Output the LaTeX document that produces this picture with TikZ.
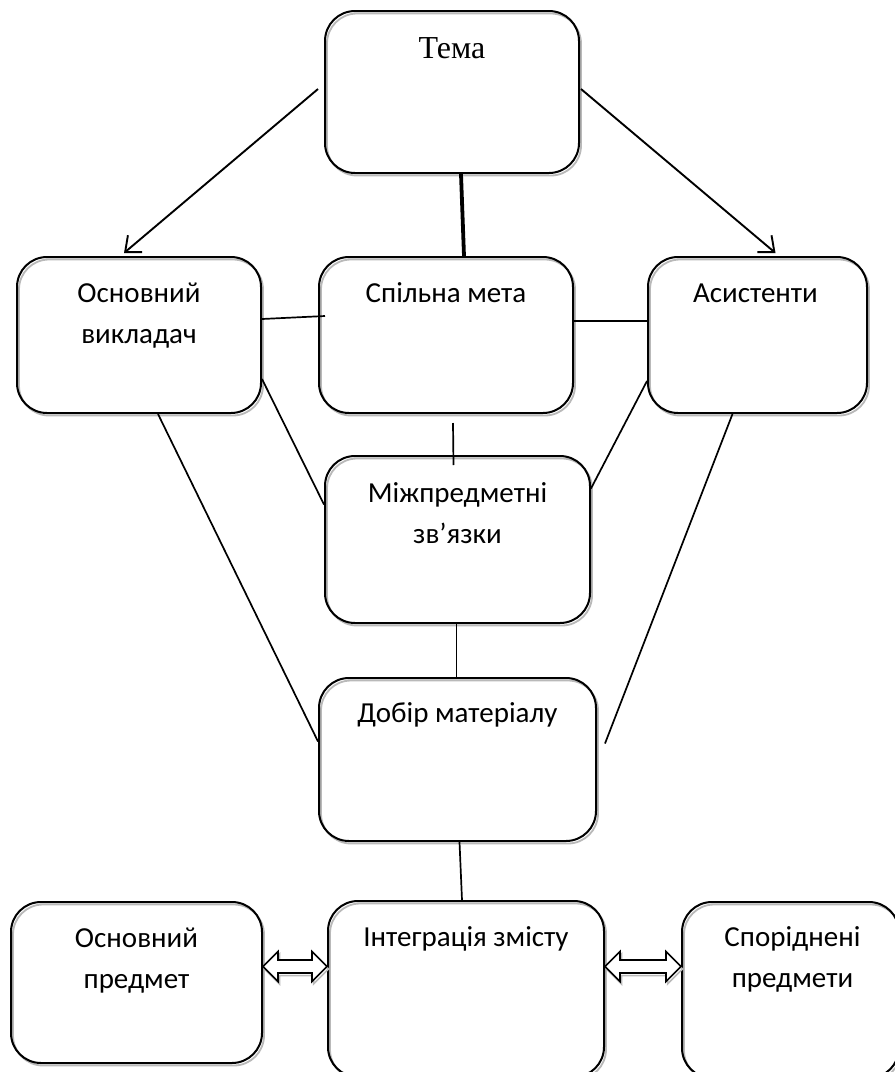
\documentclass[tikz,border=0pt]{standalone}
\usepackage{fontspec}
\setmainfont{Carlito}
\newfontfamily\serifcyr{Liberation Serif}
\usetikzlibrary{calc,arrows.meta,shadows}
\tikzset{
  box/.style={draw=black, line width=2pt, rounded corners=30pt, inner sep=0pt,
    anchor=north west,
    drop shadow={shadow xshift=2pt, shadow yshift=-2.5pt, fill=none,
      draw=gray!55, line width=1.8pt, opacity=1}},
  lbl/.style={anchor=base, inner sep=0pt, font=\fontsize{29}{41}\selectfont},
  conn/.style={line width=1.7pt},
  arr/.style={line width=1.9pt, -{Straight Barb[length=13pt,width=22pt,line width=1.9pt]}},
  blk/.style={line width=1.6pt, fill=white, line join=miter,
    drop shadow={shadow xshift=1.5pt, shadow yshift=-2.5pt, fill=none,
      draw=gray!55, line width=1.5pt, opacity=1}}
}
\newcommand\twolines[2]{\begin{tabular}[t]{@{}c@{}}#1\\#2\end{tabular}}
\newcommand\blockarrow[2]{%
  \draw[blk] (#1) -- ($(#1)+(15,-15)$) -- ($(#1)+(15,-6.5)$) -- ($(#2)+(-15,-6.5)$)
    -- ($(#2)+(-15,-15)$) -- (#2) -- ($(#2)+(-15,15)$) -- ($(#2)+(-15,6.5)$)
    -- ($(#1)+(15,6.5)$) -- ($(#1)+(15,15)$) -- cycle;}
\begin{document}
\begin{tikzpicture}[x=1pt,y=-1pt]
\useasboundingbox[fill=white] (0,0) rectangle (895,1072);
% boxes
\node[box, minimum width=254pt, minimum height=162pt] (tema) at (324,10) {};
\node[box, minimum width=244pt, minimum height=156pt] (ov) at (16,256) {};
\node[box, minimum width=254pt, minimum height=156pt] (sm) at (318,256) {};
\node[box, minimum width=219pt, minimum height=156pt] (as) at (647,256) {};
\node[box, minimum width=265pt, minimum height=167pt] (mp) at (324,455) {};
\node[box, minimum width=277pt, minimum height=163pt] (db) at (318,677) {};
\node[box, minimum width=251pt, minimum height=161pt] (op) at (10,901) {};
\node[box, minimum width=276pt, minimum height=176pt] (iz) at (327,900) {};
\node[box, minimum width=217pt, minimum height=176pt] (sp) at (681,901) {};
% texts
\node[anchor=base, inner sep=0pt, font=\serifcyr\fontsize{32}{38}\selectfont] (tTema) at ($(tema.north)+(0,48)$) {Тема};
\node[lbl] (tOv) at ($(ov.north)+(0,46)$) {\twolines{Основний}{викладач}};
\node[lbl] (tSm) at ($(sm.north)+(0,46)$) {Спільна мета};
\node[lbl] (tAs) at ($(as.north)+(-2,46)$) {Асистенти};
\node[lbl] (tMp) at ($(mp.north)+(0,47)$) {\twolines{Міжпредметні}{зв’язки}};
\node[lbl] (tDb) at ($(db.north)+(0,45)$) {Добір матеріалу};
\node[lbl] (tOp) at ($(op.north)+(0,46)$) {\twolines{Основний}{предмет}};
\node[lbl] (tIz) at ($(iz.north)+(0,46)$) {Інтеграція змісту};
\node[lbl] (tSp) at ($(sp.north)+(2,45)$) {\twolines{Споріднені}{предмети}};
% arrows from Тема
\draw[arr] ($(tema.west)+(-6,-3)$) -- ($(ov.north)+(-15,-3)$);
\draw[arr] ($(tema.east)+(1,-3)$) -- ($(as.north)+(18,-3)$);
\draw[line width=3.8pt] ($(tema.south)+(9,0)$) -- ($(sm.north)+(18,0)$);
% connectors
\draw[conn] ($(ov.east)+(0,-16)$) -- ($(sm.west)+(7,-19)$);
\draw[conn] ($(sm.east)+(0,-14)$) -- ($(as.west)+(0,-14)$);
\draw[conn] ($(ov.east)+(0,44)$) -- ($(mp.west)+(0,-35)$);
\draw[conn] ($(as.west)+(0,46)$) -- ($(mp.east)+(0,-51)$);
\draw[conn] ($(sm.south)+(7,9)$) -- ($(mp.north)+(-4,10)$);
\draw[conn] ($(ov.south)+(19,0)$) -- ($(db.west)+(0,-18)$);
\coordinate (asend) at ($(db.east)+(8,-16)$);
\draw[conn] ($(as.south)+(-25,0)$) -- (asend);
\draw[conn] ($(mp.south)+(-1,0)$) -- ($(db.north)+(-1,0)$);
\draw[conn] ($(db.south)+(2,0)$) -- ($(iz.north)+(-4,0)$);
% block double arrows
\coordinate (la) at ($(op.east)+(0,-16)$);
\coordinate (lb) at (iz.west |- la);
\coordinate (ra) at (iz.east |- la);
\coordinate (rb) at (sp.west |- la);
\blockarrow{la}{lb}
\blockarrow{ra}{rb}
\end{tikzpicture}
\end{document}
